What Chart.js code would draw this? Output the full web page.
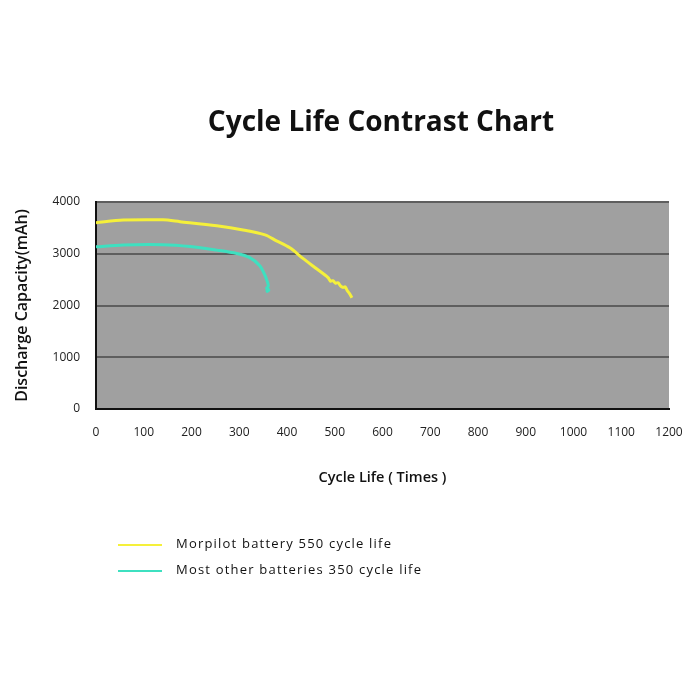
<!DOCTYPE html>
<html>
<head>
<meta charset="utf-8">
<script src="https://cdn.jsdelivr.net/npm/chart.js@4"></script>
<style>
  body { margin: 0; background: #fff; font-family: "Open Sans", sans-serif; }
  #wrap { position: relative; width: 700px; height: 700px; }
  #chart { position: absolute; left: 0; top: 0; }
  #title { position: absolute; left: 0; width: 762px; top: 101px; text-align: center;
           font-size: 28px; font-weight: bold; color: #111; }
  .leg { position: absolute; left: 118px; font-size: 13px; letter-spacing: 1.2px; color: #111; }
  .leg span { display: inline-block; width: 44px; height: 0; border-top: 2px solid; vertical-align: middle; margin-right: 14px; }
</style>
</head>
<body>
<div id="wrap">
  <canvas id="chart" width="700" height="700"></canvas>
  <div id="title">Cycle Life Contrast Chart</div>
  <div class="leg" style="top:534px"><span style="border-color:#f5f03a"></span>Morpilot battery 550 cycle life</div>
  <div class="leg" style="top:560px"><span style="border-color:#3ee0c0"></span>Most other batteries 350 cycle life</div>
</div>
<script>
const xTicks = [0, 100, 200, 300, 400, 500, 600, 700, 800, 900, 1000, 1100, 1200];
const yTicks = [0, 1000, 2000, 3000, 4000];

const morpilotCycles = [0, 57, 140, 176, 253, 308, 354, 378, 406, 434, 462, 486, 491, 496, 502, 507, 512, 517, 522, 526, 531, 536];
const morpilotCap = [3600, 3650, 3655, 3620, 3540, 3460, 3365, 3250, 3115, 2905, 2710, 2540, 2470, 2480, 2430, 2440, 2380, 2350, 2360, 2290, 2230, 2150];

const otherCycles = [0, 57, 140, 197, 253, 295, 322, 343, 354, 358, 361, 357, 362, 356];
const otherCap = [3135, 3170, 3175, 3140, 3070, 3005, 2925, 2770, 2580, 2480, 2380, 2330, 2300, 2260];

const seriesNames = ["Morpilot battery 550 cycle life", "Most other batteries 350 cycle life"];

const toPoints = (xs, ys) => xs.map((x, i) => ({ x: x, y: ys[i] }));

const plotBg = {
  id: "plotBg",
  beforeDraw(chart) {
    const { ctx, chartArea: a } = chart;
    ctx.save();
    ctx.fillStyle = "#a0a0a0";
    ctx.fillRect(a.left, a.top, a.right - a.left, a.bottom - a.top);
    ctx.restore();
  }
};

new Chart(document.getElementById("chart"), {
  type: "line",
  data: {
    datasets: [
      { label: seriesNames[0], data: toPoints(morpilotCycles, morpilotCap),
        borderColor: "#f5f03a", borderWidth: 3, pointRadius: 0, tension: 0.3 },
      { label: seriesNames[1], data: toPoints(otherCycles, otherCap),
        borderColor: "#3ee0c0", borderWidth: 3, pointRadius: 0, tension: 0.3 }
    ]
  },
  options: {
    responsive: false,
    animation: false,
    layout: { padding: { left: 13, top: 202, right: 31, bottom: 213 } },
    plugins: { legend: { display: false }, tooltip: { enabled: false } },
    scales: {
      x: {
        type: "linear", min: 0, max: 1200,
        afterBuildTicks: s => { s.ticks = xTicks.map(v => ({ value: v })); },
        afterFit: s => { s.height = 78; },
        grid: { display: false, drawTicks: false },
        border: { color: "#111", width: 2 },
        ticks: { padding: 16, color: "#222", font: { family: "Open Sans", size: 12 }, maxRotation: 0,
                 callback: v => String(v) },
        title: { display: true, text: "Cycle Life ( Times )", color: "#111",
                 font: { family: "Open Sans", size: 14.5, weight: "600" }, padding: 0 }
      },
      y: {
        min: 0, max: 4000,
        afterBuildTicks: s => { s.ticks = yTicks.map(v => ({ value: v })); },
        afterFit: s => { s.width = 83; },
        grid: { color: "#5e5e5e", lineWidth: 2, drawTicks: false },
        border: { color: "#111", width: 2 },
        ticks: { padding: 16, color: "#222", font: { family: "Open Sans", size: 12 },
                 callback: v => String(v) },
        title: { display: true, text: "Discharge Capacity(mAh)", color: "#111",
                 font: { family: "Open Sans", size: 16, weight: "600" }, padding: 0 }
      }
    }
  },
  plugins: [plotBg]
});
</script>
</body>
</html>
